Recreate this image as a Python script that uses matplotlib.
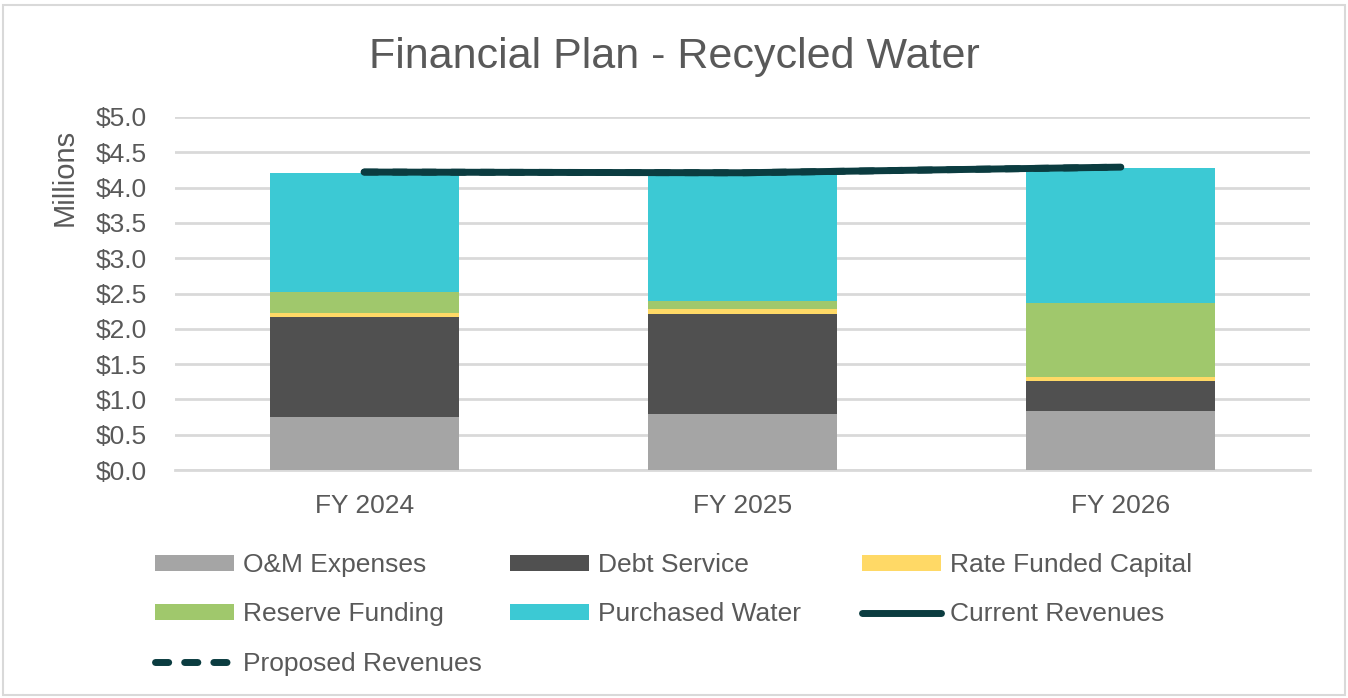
import matplotlib.pyplot as plt
from matplotlib.patches import Rectangle

plt.rcParams['font.family'] = ['Liberation Sans', 'DejaVu Sans']

years = ['FY 2024', 'FY 2025', 'FY 2026']
om_expenses = [0.75, 0.79, 0.84]
debt_service = [1.42, 1.42, 0.42]
rate_capital = [0.05, 0.07, 0.06]
reserve_funding = [0.30, 0.11, 1.05]
purchased_water = [1.69, 1.83, 1.91]
current_rev = [4.22, 4.21, 4.29]
proposed_rev = [4.22, 4.21, 4.29]

series = [
    ('O&M Expenses', om_expenses, '#A5A5A5'),
    ('Debt Service', debt_service, '#505050'),
    ('Rate Funded Capital', rate_capital, '#FFD966'),
    ('Reserve Funding', reserve_funding, '#A0C86C'),
    ('Purchased Water', purchased_water, '#3CC9D4'),
]

txt = '#595959'
fig = plt.figure(figsize=(13.48, 6.98), dpi=100)
ax = fig.add_axes([175/1348, 1 - 470/698, 1135/1348, 353/698])

x = list(range(len(years)))
bottom = [0.0] * len(years)
handles = []
for name, vals, col in series:
    h = ax.bar(x, vals, 0.5, bottom=bottom, color=col, label=name, zorder=3)
    handles.append(h)
    bottom = [b + v for b, v in zip(bottom, vals)]

h1, = ax.plot(x, current_rev, color='#0B3C40', lw=5, solid_capstyle='round', label='Current Revenues', zorder=4)
h2, = ax.plot(x, proposed_rev, color='#0B3C40', lw=5, ls=(0, (1.9, 2.3)), dash_capstyle='round',
              label='Proposed Revenues', zorder=4)
handles += [h1, h2]
labels = [s[0] for s in series] + ['Current Revenues', 'Proposed Revenues']

ax.set_xlim(-0.5, 2.5)
ax.set_ylim(0, 5.0)
ax.set_yticks([i * 0.5 for i in range(11)])
ax.set_yticklabels(['${:.1f}'.format(i * 0.5) for i in range(11)])
ax.set_xticks(x)
ax.set_xticklabels(years)
ax.tick_params(axis='both', length=0, labelsize=19, colors=txt)
ax.tick_params(axis='y', pad=20)
ax.tick_params(axis='x', pad=17)
ax.grid(axis='y', color='#D9D9D9', lw=2, zorder=0)
for s in ['top', 'right', 'left']:
    ax.spines[s].set_visible(False)
ax.spines['bottom'].set_color('#D9D9D9')
ax.spines['bottom'].set_linewidth(2)
ax.set_ylabel('Millions', fontsize=21, color=txt)
ax.yaxis.set_label_coords(-96/1135, 1 - 60/353)

fig.text(0.5, 1 - 57/698, 'Financial Plan - Recycled Water', ha='center', va='center',
         fontsize=31, color=txt)

# one legend per column so the columns sit where they do in the original
col_x = [155, 510, 862]
for c in range(3):
    idx = list(range(c, len(handles), 3))
    fig.legend([handles[i] for i in idx], [labels[i] for i in idx],
               loc='upper left', bbox_to_anchor=(col_x[c]/1348, 1 - 553/698),
               frameon=False, fontsize=19, labelcolor=txt, handlelength=3.0,
               handleheight=0.55, labelspacing=0.96, handletextpad=0.35,
               borderpad=0, borderaxespad=0)

fig.patches.append(Rectangle((3/1348, 3/698), 1342/1348, 690/698, transform=fig.transFigure,
                             fill=False, edgecolor='#D9D9D9', lw=1.5))

fig.savefig('out.png', dpi=100)
